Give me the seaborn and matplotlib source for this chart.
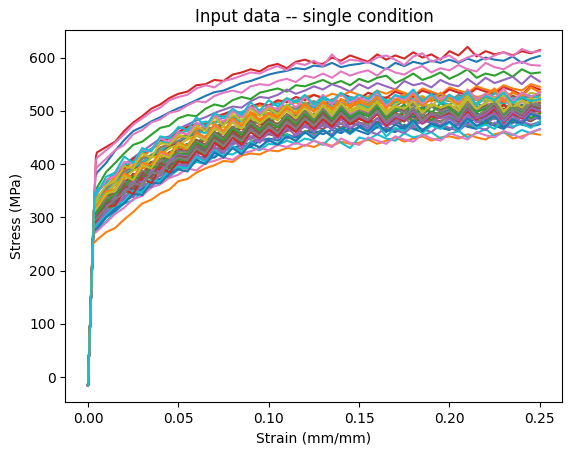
import matplotlib
matplotlib.use('Agg')
import matplotlib.pyplot as plt
import seaborn as sns

start_stress = -15

strain_grid = [0.005, 0.010, 0.015, 0.020, 0.025, 0.030, 0.035, 0.040, 0.045, 0.050,
               0.055, 0.060, 0.065, 0.070, 0.075, 0.080, 0.085, 0.090, 0.095, 0.100,
               0.105, 0.110, 0.115, 0.120, 0.125, 0.130, 0.135, 0.140, 0.145, 0.150,
               0.155, 0.160, 0.165, 0.170, 0.175, 0.180, 0.185, 0.190, 0.195, 0.200,
               0.205, 0.210, 0.215, 0.220, 0.225, 0.230, 0.235, 0.240, 0.245, 0.250]

# strain and stress where each curve leaves the elastic line
knee_strain = [0.0040, 0.0027, 0.0037, 0.0044, 0.0036, 0.0030, 0.0043, 0.0032, 0.0034, 0.0029,
               0.0031, 0.0035, 0.0030, 0.0033, 0.0031, 0.0034, 0.0041, 0.0030, 0.0032, 0.0034,
               0.0029, 0.0035, 0.0033, 0.0036, 0.0030, 0.0031, 0.0029, 0.0035, 0.0034, 0.0036,
               0.0031, 0.0032, 0.0030, 0.0031, 0.0030, 0.0032, 0.0033, 0.0032, 0.0034, 0.0029,
               0.0029, 0.0033, 0.0032, 0.0030, 0.0031, 0.0031, 0.0035, 0.0030, 0.0033, 0.0036]
knee_stress = [376, 250, 347, 415, 340, 280, 405, 298, 318, 270,
               290, 330, 280, 310, 292, 320, 388, 282, 300, 322,
               272, 332, 312, 340, 284, 290, 268, 330, 322, 345,
               292, 304, 288, 298, 282, 308, 312, 302, 326, 278,
               274, 314, 302, 288, 295, 293, 336, 292, 310, 338]

curve_00 = [384, 402, 425, 445, 462, 470, 480, 488, 497, 505,
            512, 520, 528, 535, 538, 545, 552, 556, 562, 568,
            572, 575, 580, 578, 585, 583, 590, 582, 586, 588,
            592, 585, 578, 590, 584, 592, 588, 594, 590, 596,
            590, 598, 592, 600, 596, 594, 602, 590, 598, 603]
curve_01 = [258, 272, 280, 296, 310, 326, 333, 345, 352, 368,
            372, 384, 392, 398, 406, 404, 416, 420, 418, 426,
            424, 430, 428, 436, 432, 440, 434, 442, 438, 440,
            446, 438, 444, 450, 442, 448, 452, 444, 450, 452,
            448, 456, 450, 446, 456, 460, 448, 452, 458, 455]
curve_02 = [356, 385, 402, 420, 436, 442, 455, 468, 472, 486,
            492, 490, 504, 512, 508, 520, 526, 522, 534, 538,
            542, 536, 548, 546, 552, 558, 550, 556, 548, 560,
            554, 562, 566, 552, 560, 570, 558, 564, 572, 560,
            568, 578, 562, 570, 566, 574, 564, 578, 570, 572]
curve_03 = [422, 432, 442, 462, 478, 490, 504, 512, 524, 532,
            536, 548, 550, 558, 556, 568, 572, 578, 574, 584,
            588, 580, 592, 596, 590, 588, 600, 594, 604, 598,
            592, 606, 596, 604, 598, 610, 600, 606, 596, 612,
            604, 620, 602, 612, 606, 610, 604, 612, 608, 614]
curve_04 = [346, 368, 384, 398, 412, 424, 436, 448, 452, 466,
            474, 482, 488, 496, 502, 508, 506, 518, 526, 524,
            530, 540, 532, 538, 546, 540, 550, 544, 536, 550,
            542, 552, 546, 540, 556, 548, 552, 544, 558, 550,
            546, 560, 548, 562, 552, 558, 564, 550, 566, 555]
curve_05 = [286, 306, 322, 338, 352, 350, 372, 378, 392, 396,
            408, 414, 410, 428, 430, 438, 442, 436, 450, 456,
            452, 462, 466, 458, 470, 466, 476, 468, 478, 472,
            480, 474, 484, 476, 482, 488, 478, 486, 480, 490,
            484, 478, 492, 484, 490, 482, 494, 486, 480, 490]
curve_06 = [412, 426, 440, 456, 474, 486, 498, 506, 520, 526,
            530, 542, 548, 544, 556, 560, 566, 572, 570, 578,
            584, 576, 590, 586, 594, 584, 606, 588, 596, 594,
            590, 600, 604, 596, 586, 602, 608, 592, 598, 604,
            592, 600, 606, 596, 604, 610, 602, 616, 610, 612]
curve_07 = [304, 324, 342, 358, 366, 384, 396, 402, 418, 424,
            434, 440, 452, 458, 456, 470, 472, 480, 476, 486,
            490, 484, 494, 498, 490, 502, 496, 506, 498, 504,
            494, 508, 500, 496, 510, 502, 506, 512, 498, 510,
            504, 500, 514, 506, 498, 512, 504, 510, 516, 510]
curve_08 = [324, 342, 360, 374, 392, 400, 412, 426, 430, 444,
            450, 462, 468, 464, 480, 486, 482, 494, 500, 496,
            506, 510, 504, 516, 512, 518, 510, 522, 516, 524,
            514, 526, 520, 516, 530, 522, 528, 518, 532, 526,
            520, 534, 526, 530, 524, 536, 528, 522, 534, 530]
curve_09 = [276, 292, 310, 326, 332, 350, 358, 372, 376, 390,
            394, 404, 400, 416, 420, 418, 428, 432, 426, 438,
            436, 444, 438, 448, 444, 436, 452, 440, 430, 450,
            446, 456, 448, 444, 458, 450, 454, 460, 448, 456,
            462, 450, 458, 466, 452, 460, 454, 464, 458, 466]
curve_10 = [296, 316, 328, 348, 356, 372, 376, 392, 398, 406,
            418, 416, 430, 434, 442, 438, 452, 450, 458, 462,
            456, 468, 464, 472, 466, 474, 470, 462, 478, 472,
            468, 480, 474, 482, 470, 476, 484, 478, 472, 486,
            480, 476, 488, 482, 474, 490, 484, 478, 488, 485]
curve_11 = [336, 358, 376, 388, 406, 412, 428, 438, 442, 456,
            466, 470, 478, 476, 490, 498, 494, 504, 510, 508,
            516, 522, 518, 526, 530, 524, 532, 528, 536, 530,
            526, 538, 532, 540, 534, 528, 542, 536, 530, 544,
            538, 534, 546, 540, 536, 548, 542, 538, 550, 545]
curve_12 = [286, 304, 322, 332, 346, 360, 366, 380, 388, 392,
            404, 412, 410, 422, 428, 432, 428, 442, 446, 444,
            452, 456, 450, 462, 458, 464, 456, 468, 462, 470,
            460, 472, 466, 462, 474, 468, 464, 476, 470, 466,
            478, 472, 468, 480, 474, 470, 482, 476, 472, 480]
curve_13 = [316, 332, 350, 360, 378, 384, 396, 410, 412, 426,
            432, 436, 446, 452, 450, 462, 466, 462, 474, 478,
            472, 484, 480, 488, 482, 476, 490, 484, 492, 486,
            480, 494, 488, 484, 496, 490, 486, 498, 492, 488,
            500, 494, 482, 498, 492, 504, 496, 490, 502, 500]
curve_14 = [298, 314, 334, 344, 358, 374, 380, 390, 402, 406,
            416, 424, 420, 434, 440, 436, 448, 452, 448, 460,
            456, 466, 462, 470, 464, 472, 468, 476, 466, 478,
            472, 468, 480, 474, 470, 482, 476, 484, 472, 486,
            478, 490, 480, 474, 488, 482, 476, 492, 484, 490]
curve_15 = [326, 346, 362, 380, 388, 404, 414, 420, 434, 440,
            452, 456, 466, 462, 476, 482, 478, 490, 494, 492,
            500, 504, 498, 510, 506, 502, 514, 508, 516, 510,
            504, 518, 512, 508, 520, 514, 510, 522, 516, 512,
            524, 518, 514, 526, 520, 516, 528, 522, 518, 520]
curve_16 = [394, 410, 426, 436, 456, 464, 478, 484, 496, 500,
            510, 518, 516, 528, 534, 538, 534, 546, 550, 548,
            556, 560, 554, 566, 562, 570, 562, 574, 566, 572,
            576, 566, 580, 572, 568, 578, 584, 572, 580, 576,
            586, 578, 574, 590, 582, 578, 588, 592, 586, 585]
curve_17 = [288, 308, 326, 336, 354, 362, 378, 384, 396, 402,
            414, 418, 428, 426, 440, 444, 450, 446, 458, 464,
            460, 470, 466, 474, 480, 472, 482, 476, 484, 478,
            474, 486, 480, 476, 488, 482, 490, 484, 478, 492,
            486, 482, 494, 488, 484, 496, 490, 486, 498, 495]
curve_18 = [306, 320, 340, 352, 370, 374, 392, 396, 410, 418,
            426, 424, 440, 444, 450, 448, 460, 464, 472, 468,
            478, 472, 482, 476, 486, 480, 474, 488, 482, 492,
            484, 478, 490, 486, 480, 494, 488, 484, 498, 490,
            484, 496, 490, 502, 492, 486, 500, 494, 488, 500]
curve_19 = [330, 350, 362, 382, 394, 402, 418, 424, 438, 444,
            452, 462, 458, 472, 476, 484, 480, 492, 496, 490,
            502, 506, 500, 512, 508, 516, 508, 502, 518, 512,
            506, 520, 514, 510, 522, 516, 512, 524, 518, 510,
            526, 520, 514, 528, 518, 512, 524, 520, 508, 515]
curve_20 = [278, 300, 312, 330, 340, 354, 368, 372, 386, 394,
            398, 410, 414, 412, 426, 430, 436, 432, 444, 448,
            444, 454, 450, 458, 462, 456, 464, 458, 468, 462,
            456, 470, 464, 460, 472, 466, 460, 474, 468, 464,
            476, 470, 466, 478, 472, 466, 480, 474, 470, 475]
curve_21 = [340, 352, 370, 384, 398, 410, 416, 432, 436, 450,
            456, 466, 470, 480, 478, 488, 494, 490, 500, 506,
            502, 510, 516, 508, 518, 512, 522, 516, 510, 524,
            518, 512, 526, 520, 514, 528, 522, 518, 530, 524,
            520, 532, 526, 522, 534, 528, 520, 532, 526, 525]
curve_22 = [320, 338, 352, 368, 376, 392, 404, 408, 422, 430,
            438, 436, 452, 456, 462, 460, 472, 476, 482, 478,
            488, 484, 492, 486, 494, 490, 484, 498, 492, 486,
            500, 494, 490, 502, 496, 492, 504, 498, 494, 506,
            500, 496, 508, 502, 498, 510, 504, 498, 510, 505]
curve_23 = [348, 366, 382, 392, 410, 420, 428, 444, 448, 460,
            470, 476, 474, 488, 494, 500, 496, 508, 514, 510,
            520, 516, 526, 520, 530, 524, 518, 532, 526, 522,
            534, 528, 524, 536, 530, 526, 538, 532, 528, 540,
            534, 530, 542, 536, 532, 544, 538, 530, 546, 540]
curve_24 = [290, 306, 318, 336, 346, 360, 364, 380, 384, 396,
            400, 412, 408, 422, 426, 432, 428, 440, 446, 442,
            452, 448, 456, 460, 454, 462, 456, 466, 458, 470,
            462, 456, 470, 464, 458, 472, 466, 460, 474, 468,
            462, 476, 470, 464, 478, 472, 468, 480, 474, 478]
curve_25 = [298, 318, 330, 350, 362, 372, 386, 392, 404, 412,
            422, 428, 426, 440, 446, 452, 448, 460, 464, 460,
            472, 468, 476, 482, 474, 484, 478, 486, 480, 490,
            482, 478, 490, 486, 480, 494, 488, 482, 496, 490,
            486, 498, 492, 488, 500, 494, 490, 502, 496, 505]
curve_26 = [274, 290, 306, 318, 334, 340, 356, 362, 374, 380,
            392, 388, 402, 406, 412, 408, 420, 424, 430, 426,
            436, 432, 440, 434, 444, 438, 432, 448, 440, 436,
            450, 444, 438, 452, 446, 442, 456, 448, 444, 458,
            452, 446, 460, 454, 450, 462, 456, 448, 460, 465]
curve_27 = [336, 354, 368, 386, 394, 410, 416, 430, 438, 442,
            456, 460, 470, 466, 480, 484, 490, 486, 498, 502,
            498, 508, 504, 512, 518, 510, 520, 514, 522, 516,
            510, 524, 518, 514, 526, 520, 516, 528, 522, 518,
            530, 524, 520, 532, 526, 522, 534, 528, 524, 530]
curve_28 = [328, 344, 362, 374, 388, 394, 412, 416, 430, 436,
            446, 454, 450, 464, 470, 466, 478, 484, 480, 490,
            494, 488, 500, 496, 490, 504, 498, 492, 506, 500,
            496, 508, 502, 498, 510, 504, 500, 512, 506, 498,
            514, 508, 502, 516, 506, 500, 512, 518, 508, 515]
curve_29 = [352, 364, 384, 398, 404, 422, 428, 442, 440, 458,
            462, 474, 480, 476, 490, 486, 498, 504, 496, 508,
            514, 508, 520, 514, 506, 522, 516, 512, 526, 518,
            512, 528, 520, 514, 530, 522, 510, 526, 532, 520,
            514, 530, 524, 518, 534, 526, 520, 532, 528, 525]
curve_30 = [300, 326, 330, 358, 352, 378, 376, 400, 396, 418,
            414, 436, 428, 452, 442, 464, 456, 478, 466, 482,
            470, 490, 476, 494, 480, 500, 482, 502, 486, 496,
            490, 506, 488, 498, 504, 488, 508, 494, 490, 504,
            492, 510, 496, 488, 508, 498, 492, 512, 496, 505]
curve_31 = [312, 338, 342, 372, 366, 394, 388, 416, 410, 434,
            426, 454, 444, 470, 456, 482, 470, 498, 484, 496,
            490, 510, 494, 514, 500, 516, 504, 522, 506, 516,
            510, 526, 506, 520, 532, 510, 526, 518, 534, 522,
            512, 536, 520, 528, 540, 518, 534, 528, 544, 535]
curve_32 = [295, 318, 322, 350, 344, 370, 366, 392, 386, 410,
            404, 428, 418, 444, 430, 454, 442, 466, 450, 472,
            460, 482, 464, 486, 470, 490, 472, 494, 476, 485,
            478, 496, 474, 488, 498, 476, 494, 482, 498, 490,
            480, 500, 484, 476, 498, 486, 480, 502, 486, 495]
curve_33 = [305, 324, 340, 352, 370, 368, 394, 390, 412, 420,
            416, 438, 430, 454, 442, 462, 450, 472, 458, 470,
            462, 482, 466, 488, 472, 492, 476, 494, 480, 488,
            484, 500, 478, 496, 486, 504, 482, 498, 490, 498,
            488, 508, 486, 500, 494, 512, 490, 504, 496, 510]
curve_34 = [288, 312, 316, 342, 338, 362, 356, 382, 376, 400,
            394, 418, 408, 432, 420, 444, 432, 452, 440, 460,
            448, 468, 454, 474, 460, 480, 464, 484, 468, 478,
            466, 486, 470, 480, 490, 468, 484, 476, 492, 485,
            472, 494, 478, 486, 496, 474, 490, 480, 498, 490]
curve_35 = [315, 334, 350, 364, 382, 378, 404, 400, 422, 425,
            424, 446, 436, 460, 450, 470, 458, 482, 466, 485,
            474, 494, 482, 500, 486, 506, 490, 512, 494, 505,
            496, 514, 492, 508, 500, 516, 494, 512, 502, 510,
            498, 520, 500, 510, 516, 496, 514, 504, 522, 515]
curve_36 = [320, 346, 348, 378, 372, 398, 394, 422, 414, 440,
            434, 456, 448, 474, 460, 482, 470, 494, 478, 495,
            484, 502, 486, 510, 490, 512, 488, 516, 494, 505,
            498, 518, 492, 510, 504, 522, 496, 514, 506, 512,
            500, 524, 502, 516, 508, 526, 502, 518, 510, 520]
curve_37 = [310, 336, 340, 368, 360, 388, 382, 408, 404, 425,
            422, 442, 434, 458, 446, 468, 458, 478, 464, 480,
            472, 492, 476, 498, 482, 504, 484, 508, 490, 500,
            492, 510, 488, 504, 496, 512, 490, 508, 498, 505,
            494, 514, 498, 506, 516, 492, 510, 500, 518, 510]
curve_38 = [335, 360, 368, 396, 392, 420, 412, 440, 436, 455,
            450, 472, 462, 488, 472, 494, 482, 504, 490, 505,
            494, 512, 496, 506, 488, 510, 498, 514, 500, 510,
            502, 518, 498, 512, 522, 500, 516, 508, 526, 520,
            506, 528, 512, 522, 514, 530, 506, 520, 512, 525]
curve_39 = [285, 304, 320, 330, 350, 346, 370, 368, 388, 395,
            392, 414, 404, 426, 414, 434, 422, 442, 430, 445,
            438, 456, 442, 460, 450, 464, 452, 468, 456, 470,
            460, 476, 452, 468, 462, 480, 458, 472, 466, 478,
            462, 484, 468, 474, 466, 486, 470, 476, 468, 480]
curve_40 = [280, 300, 316, 326, 344, 342, 364, 364, 382, 390,
            386, 408, 400, 422, 412, 430, 418, 438, 432, 445,
            436, 452, 444, 460, 448, 464, 452, 468, 458, 470,
            462, 478, 460, 474, 466, 482, 462, 476, 470, 480,
            466, 486, 472, 480, 490, 468, 484, 476, 494, 488]
curve_41 = [322, 348, 352, 382, 374, 402, 398, 424, 418, 440,
            434, 460, 450, 476, 462, 486, 472, 496, 480, 495,
            486, 506, 494, 512, 498, 518, 502, 522, 506, 520,
            510, 526, 504, 522, 516, 532, 508, 526, 518, 530,
            514, 538, 520, 530, 542, 516, 536, 526, 544, 535]
curve_42 = [310, 328, 344, 358, 376, 372, 396, 394, 414, 420,
            418, 440, 430, 454, 444, 466, 454, 474, 462, 478,
            468, 488, 474, 494, 480, 498, 484, 504, 488, 498,
            490, 508, 486, 500, 512, 490, 506, 496, 514, 505,
            492, 510, 498, 504, 514, 490, 506, 496, 510, 500]
curve_43 = [295, 320, 322, 352, 344, 374, 364, 394, 384, 405,
            402, 424, 414, 440, 428, 450, 436, 460, 448, 465,
            452, 474, 460, 480, 466, 484, 470, 490, 474, 485,
            478, 494, 472, 488, 482, 498, 476, 490, 486, 495,
            480, 500, 484, 492, 504, 478, 496, 486, 504, 498]
curve_44 = [302, 322, 338, 350, 368, 366, 388, 386, 408, 418,
            414, 434, 424, 450, 438, 458, 446, 468, 454, 470,
            460, 478, 466, 486, 472, 490, 476, 496, 480, 490,
            482, 498, 476, 490, 484, 500, 478, 494, 486, 492,
            482, 504, 486, 494, 508, 480, 498, 488, 506, 500]
curve_45 = [300, 326, 332, 358, 354, 382, 374, 402, 394, 415,
            412, 432, 424, 450, 438, 458, 448, 472, 456, 475,
            462, 484, 470, 490, 476, 496, 478, 498, 482, 492,
            484, 502, 480, 496, 488, 504, 484, 496, 490, 498,
            486, 506, 490, 500, 510, 486, 504, 492, 510, 505]
curve_46 = [345, 370, 378, 404, 402, 428, 424, 448, 442, 460,
            456, 478, 468, 492, 480, 500, 488, 508, 496, 510,
            502, 522, 506, 526, 510, 530, 512, 532, 516, 525,
            518, 534, 510, 528, 520, 536, 514, 530, 522, 530,
            516, 540, 522, 532, 524, 542, 518, 534, 526, 535]
curve_47 = [298, 318, 334, 346, 364, 360, 384, 382, 402, 412,
            408, 430, 420, 446, 434, 454, 444, 464, 452, 472,
            458, 480, 466, 486, 472, 490, 476, 496, 480, 492,
            484, 500, 480, 494, 488, 506, 482, 496, 492, 500,
            486, 510, 490, 500, 514, 488, 504, 494, 514, 508]
curve_48 = [318, 344, 350, 378, 370, 398, 392, 418, 412, 438,
            430, 454, 444, 468, 456, 478, 466, 490, 476, 490,
            482, 500, 486, 506, 490, 510, 492, 514, 498, 505,
            500, 516, 494, 508, 504, 518, 496, 512, 506, 512,
            500, 522, 504, 514, 526, 498, 516, 506, 524, 518]
curve_49 = [345, 376, 384, 414, 402, 430, 424, 452, 448, 470,
            464, 488, 470, 496, 486, 504, 492, 516, 500, 520,
            508, 524, 516, 530, 512, 526, 518, 534, 520, 530,
            522, 538, 514, 530, 524, 540, 518, 532, 512, 530,
            520, 536, 510, 528, 520, 534, 514, 526, 518, 522]

curves = [curve_00, curve_01, curve_02, curve_03, curve_04, curve_05, curve_06, curve_07, curve_08, curve_09,
          curve_10, curve_11, curve_12, curve_13, curve_14, curve_15, curve_16, curve_17, curve_18, curve_19,
          curve_20, curve_21, curve_22, curve_23, curve_24, curve_25, curve_26, curve_27, curve_28, curve_29,
          curve_30, curve_31, curve_32, curve_33, curve_34, curve_35, curve_36, curve_37, curve_38, curve_39,
          curve_40, curve_41, curve_42, curve_43, curve_44, curve_45, curve_46, curve_47, curve_48, curve_49]

fig = plt.figure(figsize=(5.71, 4.55), dpi=100)
ax = fig.add_axes([65.4 / 571, 53 / 455, 497 / 571, 372 / 455])

for i, curve in enumerate(curves):
    x = [0.0, knee_strain[i]] + strain_grid
    y = [start_stress, knee_stress[i]] + curve
    sns.lineplot(x=x, y=y, estimator=None, sort=False, ax=ax)

ax.set_title('Input data -- single condition')
ax.set_xlabel('Strain (mm/mm)')
ax.set_ylabel('Stress (MPa)')

fig.savefig('out.png', dpi=100)
